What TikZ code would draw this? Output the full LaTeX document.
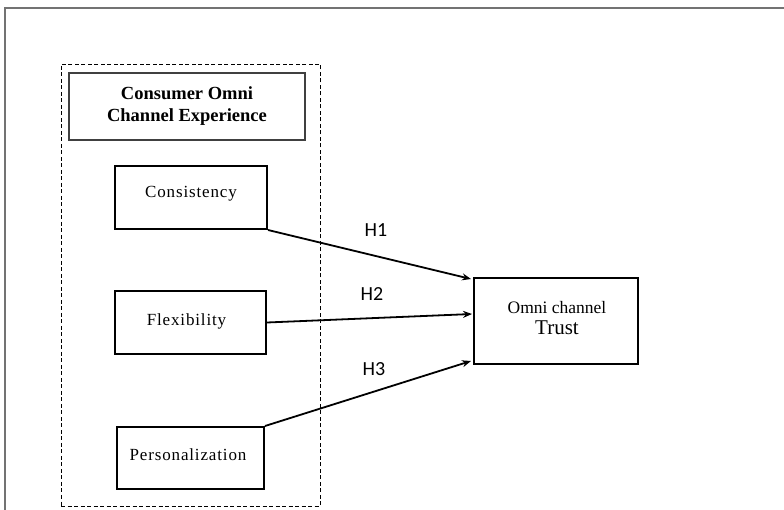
\documentclass[tikz,border=0pt]{standalone}
\usepackage{fontspec}
\setmainfont{Liberation Serif}
\newfontfamily\spacedfont[LetterSpace=5]{Liberation Serif}
\newfontfamily\calfont{Carlito}
\usetikzlibrary{arrows.meta}
\begin{document}
\begin{tikzpicture}[x=1pt,y=-1pt,
  box/.style={draw=black,line width=2pt,fill=white,inner sep=0pt,align=center},
  hdr/.style={draw=black!75,line width=1.2pt,inner sep=0pt,align=center,font=\bfseries\fontsize{18.5}{22}\selectfont},
  lbl/.style={font=\spacedfont\fontsize{17}{20}\selectfont},
  hlab/.style={font=\calfont\fontsize{20}{24}\selectfont},
  arr/.style={line width=1.8pt,-{Stealth[length=9pt,width=7pt]}}]
\useasboundingbox (0,0) rectangle (784,510);
% outer frame (top and left edges)
\coordinate (fa) at (784,8);
\coordinate (fb) at (5,8);
\coordinate (fc) at (5,510);
\draw[black!55,line width=2pt] (fa) -- (fb) -- (fc);
% dashed group
\node[draw=black,line width=0.9pt,dash pattern=on 4pt off 2.5pt,minimum width=259pt,minimum height=442pt,inner sep=0pt] (grp) at (190.5,285) {};
% header
\node[hdr,minimum width=236pt,minimum height=67pt] (head) at (187,106.5) {Consumer Omni\\Channel Experience};
% construct boxes
\node[box,minimum width=152pt,minimum height=63pt] (cons) at (191,197.5) {};
\node[lbl] (tcons) at (191,194) {Consistency};
\node[box,minimum width=151pt,minimum height=63pt] (flex) at (190.5,322.5) {};
\node[lbl] (tflex) at (186.5,321) {Flexibility};
\node[box,minimum width=147pt,minimum height=62pt] (pers) at (190.5,458) {};
\node[lbl] (tpers) at (188,455) {Personalization};
% outcome
\node[box,minimum width=164pt,minimum height=86pt] (trust) at (556,321) {};
\node[align=center,font=\fontsize{17.5}{21}\selectfont] (ttrust) at (557,318) {Omni channel\\\fontsize{21}{21}\selectfont Trust};
% arrow targets
\coordinate (t1) at (471,279);
\coordinate (t2) at (472,314);
\coordinate (t3) at (471,361);
\draw[arr] (cons.south east) -- (t1);
\draw[arr] (flex.east) -- (t2);
\draw[arr] (pers.north east) -- (t3);
% hypothesis labels
\node[hlab] (h1) at (376,230) {H1};
\node[hlab] (h2) at (372,294) {H2};
\node[hlab] (h3) at (374,369) {H3};
\end{tikzpicture}
\end{document}
